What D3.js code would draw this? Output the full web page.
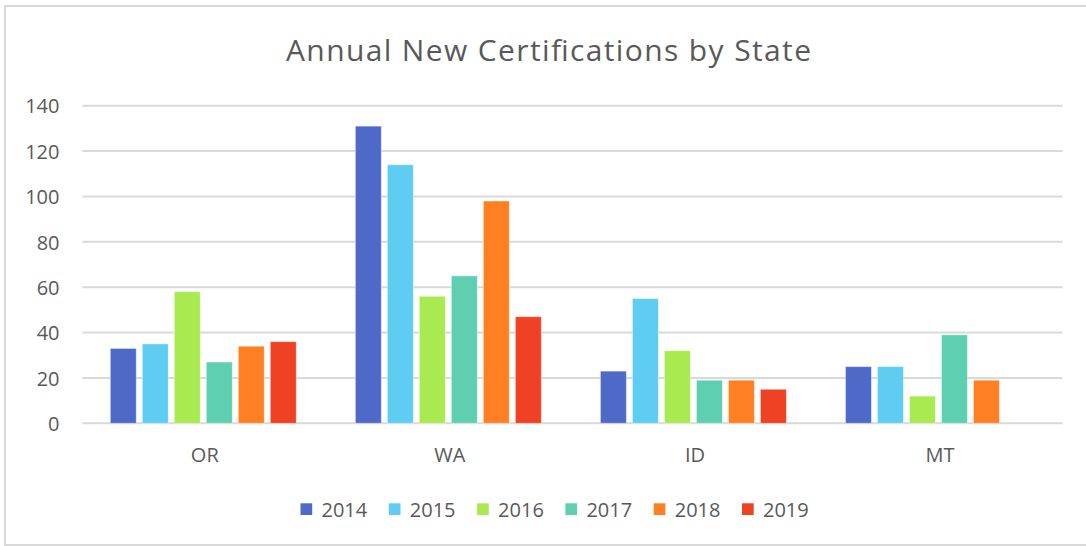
<!DOCTYPE html>
<html>
<head>
<meta charset="utf-8">
<script src="https://cdn.jsdelivr.net/npm/d3@7"></script>
<style>
  html, body { margin: 0; padding: 0; background: #fff; }
  svg { display: block; font-family: "Open Sans", "Liberation Sans", sans-serif; }
</style>
</head>
<body>
<svg id="chart" width="1086" height="546"></svg>
<script>
const title = "Annual New Certifications by State";
const states = ["OR", "WA", "ID", "MT"];
const years = ["2014", "2015", "2016", "2017", "2018", "2019"];
const colors = ["#4F69C8", "#5FCDF2", "#A8EA50", "#5ECFB1", "#FF8022", "#EF4123"];
const v2014 = [33, 131, 23, 25];
const v2015 = [35, 114, 55, 25];
const v2016 = [58, 56, 32, 12];
const v2017 = [27, 65, 19, 39];
const v2018 = [34, 98, 19, 19];
const v2019 = [36, 47, 15, null];
const yTicks = [0, 20, 40, 60, 80, 100, 120, 140];

const seriesValues = [v2014, v2015, v2016, v2017, v2018, v2019];

const svg = d3.select("#chart");
const plot = { left: 82.3, right: 1062.5, top: 105.7, bottom: 423.3 };
const textColor = "#595959";
const gridColor = "#D9D9D9";

// outer border
svg.append("rect")
  .attr("x", 5).attr("y", 6).attr("width", 1100).attr("height", 539)
  .attr("fill", "#fff").attr("stroke", gridColor).attr("stroke-width", 2);

const x0 = d3.scaleBand().domain(states).range([plot.left, plot.right]).padding(0);
const x1 = d3.scaleBand().domain(years).range([25, 217]).paddingInner(0.1875).paddingOuter(0.09375);
const y = d3.scaleLinear().domain([0, 140]).range([plot.bottom, plot.top]);

// gridlines
svg.append("g").selectAll("line").data(yTicks).join("line")
  .attr("x1", plot.left).attr("x2", plot.right)
  .attr("y1", d => y(d)).attr("y2", d => y(d))
  .attr("stroke", gridColor).attr("stroke-width", 2);

// y axis labels via d3 axis
const yAxis = d3.axisLeft(y).tickValues(yTicks).tickSize(0).tickPadding(0);
const yg = svg.append("g").attr("transform", `translate(59.5,0)`).call(yAxis);
yg.select(".domain").remove();
yg.selectAll("text").attr("fill", textColor).attr("font-size", 20).attr("dy", "0.36em")
  .attr("font-family", "'Open Sans', sans-serif");

// x axis labels
const xAxis = d3.axisBottom(x0).tickSize(0).tickPadding(0);
const xg = svg.append("g").attr("transform", `translate(0,${plot.bottom})`).call(xAxis);
xg.select(".domain").remove();
xg.selectAll("text").attr("fill", textColor).attr("font-size", 20).attr("dy", null).attr("y", 39)
  .attr("font-family", "'Open Sans', sans-serif");

// bars
const groups = svg.append("g").selectAll("g").data(states).join("g")
  .attr("transform", d => `translate(${x0(d)},0)`);
groups.selectAll("rect")
  .data((s, si) => years.map((yr, i) => ({ yr, i, v: seriesValues[i][si] })).filter(d => d.v != null))
  .join("rect")
  .attr("x", d => x1(d.yr))
  .attr("width", x1.bandwidth())
  .attr("y", d => y(d.v))
  .attr("height", d => y(0) - y(d.v))
  .attr("fill", d => colors[d.i])
  .attr("stroke", "rgba(255,255,255,0.45)")
  .attr("stroke-width", 1);

// title
svg.append("text")
  .attr("x", 548.5).attr("y", 61)
  .attr("text-anchor", "middle")
  .attr("fill", textColor)
  .attr("font-size", 30)
  .attr("textLength", 525)
  .attr("lengthAdjust", "spacing")
  .text(title);

// legend
const legend = svg.append("g");
const legStart = 300.5, legStep = 88.3;
const li = legend.selectAll("g").data(years).join("g")
  .attr("transform", (d, i) => `translate(${legStart + i * legStep},0)`);
li.append("rect").attr("x", 0).attr("y", 503.3).attr("width", 11.7).attr("height", 11.7)
  .attr("fill", (d, i) => colors[i]);
li.append("text").attr("x", 21).attr("y", 516.5)
  .attr("fill", textColor).attr("font-size", 20).text(d => d);
</script>
</body>
</html>
